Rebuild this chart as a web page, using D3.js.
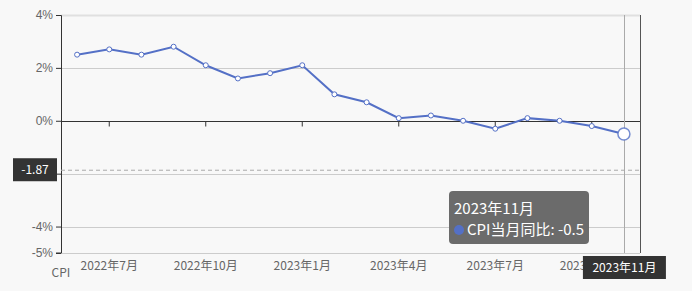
<!DOCTYPE html>
<html>
<head>
<meta charset="utf-8">
<script src="https://cdn.jsdelivr.net/npm/d3@7"></script>
<style>
  body { margin: 0; background: #f8f8f8; }
  svg { display: block; font-family: "Noto Sans CJK SC", "Noto Sans", sans-serif; }
  .axis text { fill: #666; font-size: 12px; }
</style>
</head>
<body>
<svg id="chart" width="692" height="291"></svg>
<script>
// months and CPI year-on-year values (%)
var months = ["2022年6月","2022年7月","2022年8月","2022年9月","2022年10月","2022年11月","2022年12月",
              "2023年1月","2023年2月","2023年3月","2023年4月","2023年5月","2023年6月","2023年7月",
              "2023年8月","2023年9月","2023年10月","2023年11月"];
var cpiValues = [2.5, 2.7, 2.5, 2.8, 2.1, 1.6, 1.8, 2.1, 1.0, 0.7, 0.1, 0.2, 0.0, -0.3, 0.1, 0.0, -0.2, -0.5];
var yTicks = [4, 2, 0, -2, -4, -5];
var labelMonths = ["2022年7月","2022年10月","2023年1月","2023年4月","2023年7月","2023年10月"];
var seriesName = "CPI当月同比";
var hoverIndex = 17;
var pointerValue = -1.87;

var svg = d3.select("#chart"),
    margin = {top: 15, right: 52, bottom: 38, left: 61},
    width = 692 - margin.left - margin.right,
    height = 291 - margin.top - margin.bottom,
    g = svg.append("g").attr("transform", "translate(" + margin.left + "," + margin.top + ")");

var x = d3.scaleBand().domain(months).range([0, width]);
var y = d3.scaleLinear().domain([-5, 4]).range([height, 0]);
var cx = function(d) { return x(d) + x.bandwidth() / 2; };

// horizontal grid lines
g.selectAll(".grid").data(yTicks.filter(function(t) { return t !== 0; }))
  .enter().append("line")
  .attr("x1", 0).attr("x2", width)
  .attr("y1", function(d) { return Math.round(y(d)) + 0.5; })
  .attr("y2", function(d) { return Math.round(y(d)) + 0.5; })
  .attr("stroke", function(d) { return d === 4 ? "#e0e0e0" : "#cccccc"; })
  .attr("stroke-width", function(d) { return d === 4 ? 2 : 1; });

// left y axis
var yAxis = g.append("g").attr("class", "axis")
  .call(d3.axisLeft(y).tickValues(yTicks).tickSize(5).tickPadding(3)
    .tickFormat(function(d) { return d + "%"; }));
yAxis.select(".domain").attr("stroke", "#333").attr("d", "M-5,0.5H0.5V" + height + "H-5");
yAxis.selectAll(".tick line").attr("stroke", "#333");
yAxis.selectAll(".tick").filter(function(d) { return d === -2; }).select("text").remove();

// right border line
g.append("line").attr("x1", width + 0.5).attr("x2", width + 0.5)
  .attr("y1", 0).attr("y2", height).attr("stroke", "#555");

// x axis on zero
var xAxis = g.append("g").attr("class", "axis")
  .attr("transform", "translate(0," + (Math.round(y(0)) + 0.5) + ")")
  .call(d3.axisBottom(x).tickValues(labelMonths).tickSize(5).tickFormat(""));
xAxis.select(".domain").attr("stroke", "#333").attr("d", "M0,0H" + width);
xAxis.selectAll(".tick line").attr("stroke", "#333");

// x labels along the bottom
g.selectAll(".xlabel").data(labelMonths)
  .enter().append("text")
  .attr("class", "xlabel")
  .attr("x", cx).attr("y", height + 17)
  .attr("text-anchor", "middle")
  .attr("fill", "#666").style("font-size", "12px")
  .text(function(d) { return d; });

// axis name
svg.append("text").attr("x", margin.left).attr("y", 277)
  .attr("text-anchor", "middle").attr("fill", "#666").style("font-size", "12px")
  .text("CPI");

// crosshair lines
var px = cx(months[hoverIndex]);
g.append("line").attr("x1", Math.round(px) + 0.5).attr("x2", Math.round(px) + 0.5)
  .attr("y1", 0).attr("y2", height).attr("stroke", "#aaa");
g.append("line").attr("x1", 0).attr("x2", width)
  .attr("y1", y(pointerValue)).attr("y2", y(pointerValue))
  .attr("stroke", "#aaa").attr("stroke-dasharray", "4,3");

// line
var line = d3.line()
  .x(function(d, i) { return cx(months[i]); })
  .y(function(d) { return y(d); });

g.append("path").datum(cpiValues)
  .attr("d", line).attr("fill", "none")
  .attr("stroke", "#5470c6").attr("stroke-width", 2);

g.selectAll(".pt").data(cpiValues)
  .enter().append("circle")
  .attr("cx", function(d, i) { return cx(months[i]); })
  .attr("cy", function(d) { return y(d); })
  .attr("r", function(d, i) { return i === hoverIndex ? 6 : 2.5; })
  .attr("fill", "#fff").attr("stroke", "#5470c6")
  .attr("stroke-opacity", function(d, i) { return i === hoverIndex ? 0.8 : 1; })
  .attr("stroke-width", function(d, i) { return i === hoverIndex ? 1.5 : 1; });

// y pointer label
var yl = svg.append("g").attr("transform", "translate(13," + (margin.top + y(pointerValue) - 12) + ")");
yl.append("rect").attr("width", 44).attr("height", 23).attr("fill", "#333");
yl.append("text").attr("x", 22).attr("y", 16).attr("text-anchor", "middle")
  .attr("fill", "#fff").style("font-size", "12px").text(pointerValue.toFixed(2));

// x pointer label
var xl = svg.append("g").attr("transform", "translate(" + (margin.left + px - 41) + ",256)");
xl.append("rect").attr("width", 83).attr("height", 23).attr("fill", "#333");
xl.append("text").attr("x", 41.5).attr("y", 16).attr("text-anchor", "middle")
  .attr("fill", "#fff").style("font-size", "12px").text(months[hoverIndex]);

// tooltip
var tip = svg.append("g").attr("transform", "translate(449,191)");
tip.append("rect").attr("width", 140).attr("height", 53).attr("rx", 4)
  .attr("fill", "#6b6b6b");
tip.append("text").attr("x", 5).attr("y", 23).attr("fill", "#fff")
  .style("font-size", "15px").text(months[hoverIndex]);
tip.append("circle").attr("cx", 10).attr("cy", 39).attr("r", 5).attr("fill", "#5470c6");
tip.append("text").attr("x", 18).attr("y", 44).attr("fill", "#fff")
  .style("font-size", "15px").text(seriesName + ": " + cpiValues[hoverIndex]);
</script>
</body>
</html>
